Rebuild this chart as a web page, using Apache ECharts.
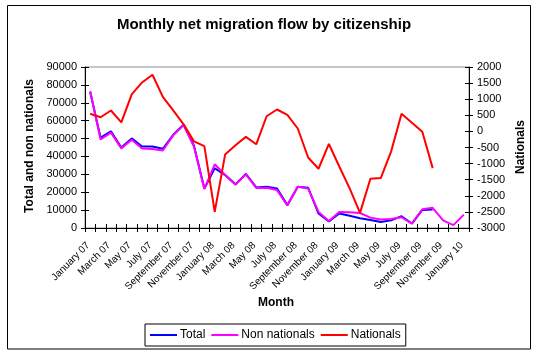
<!DOCTYPE html>
<html>
<head>
<meta charset="utf-8">
<script src="https://cdn.jsdelivr.net/npm/echarts@6/dist/echarts.min.js"></script>
<style>
  html, body { margin: 0; padding: 0; background: #fff; }
  #chart { width: 534px; height: 353px; }
</style>
</head>
<body>
<div id="chart"></div>
<script>
// Month categories, January 2007 to January 2010
const months = [
  'January 07', 'February 07', 'March 07', 'April 07', 'May 07', 'June 07',
  'July 07', 'August 07', 'September 07', 'October 07', 'November 07', 'December 07',
  'January 08', 'February 08', 'March 08', 'April 08', 'May 08', 'June 08',
  'July 08', 'August 08', 'September 08', 'October 08', 'November 08', 'December 08',
  'January 09', 'February 09', 'March 09', 'April 09', 'May 09', 'June 09',
  'July 09', 'August 09', 'September 09', 'October 09', 'November 09', 'December 09',
  'January 10'
];

// Net migration, all citizens (left axis)
const total = [
  76000, 50500, 54000, 45000, 50100, 45600, 45600, 44300, 52100, 57800, 46000, 22100,
  33400, 29600, 24400, 30200, 22700, 23100, 22100, 12800, 23100, 22500, 8100, 3600,
  8100, 6800, 5500, 4500, 3400, 4300, 6600, 2500, 10100, 10300, null, null, null
];

// Net migration, non nationals (left axis)
const nonNationals = [
  76500, 49500, 53300, 44500, 49300, 44400, 44100, 43300, 51800, 57500, 45500, 21800,
  35600, 29600, 24200, 30000, 22400, 22500, 21200, 12600, 23000, 22100, 9000, 3900,
  9000, 8800, 8400, 5800, 4800, 5000, 6000, 2500, 10500, 11300, 4300, 1600, 7500
];

// Net migration, nationals (right axis)
const nationals = [
  550, 440, 650, 280, 1150, 1520, 1760, 1070, 650, 220, -310, -460,
  -2500, -720, -430, -170, -400, 470, 680, 510, 90, -810, -1160, -390,
  -1090, -1770, -2530, -1470, -1450, -620, 550, 270, -10, -1140, null, null, null
];

// Axis ranges
const leftMin = 0, leftMax = 90000, leftStep = 10000;
const rightMin = -3000, rightMax = 2000, rightStep = 500;

const FONT = '"Liberation Sans", Arial, sans-serif';
const black = '#000000';

const chart = echarts.init(document.getElementById('chart'), null, { renderer: 'canvas' });

// Tick marks cross each axis line: one axis draws the outer half, a twin draws the inner half
function valueAxis(pos, min, max, step, inner) {
  return {
    type: 'value', position: pos, min: min, max: max, interval: step,
    splitLine: { show: false },
    axisLine: { show: !inner, lineStyle: { color: black, width: 1 } },
    axisTick: { show: true, inside: !!inner, length: 4, lineStyle: { color: black } },
    axisLabel: inner ? { show: false } : {
      show: true, color: black, fontSize: 11, fontFamily: FONT, margin: 8,
      formatter: function (v) { return String(v); }
    }
  };
}

function categoryAxis(inner) {
  return {
    type: 'category', data: months, position: 'bottom', boundaryGap: true,
    axisLine: { show: !inner, onZero: false, lineStyle: { color: black, width: 1 } },
    axisTick: { show: true, inside: !!inner, length: 4, interval: 0, lineStyle: { color: black } },
    axisLabel: inner ? { show: false } : {
      show: true, interval: 1, rotate: 45, color: black, fontSize: 10, fontFamily: FONT,
      margin: 14,
      // a trailing space nudges each slanted label slightly down-left of its month
      formatter: function (v) { return v + ' '; }
    }
  };
}

function lineSeries(name, data, color, axisIndex) {
  return {
    name: name, type: 'line', data: data, yAxisIndex: axisIndex,
    showSymbol: false, symbol: 'none', connectNulls: false, animation: false,
    lineStyle: { color: color, width: 2 }, itemStyle: { color: color }
  };
}

chart.setOption({
  animation: false,
  backgroundColor: '#ffffff',
  textStyle: { fontFamily: FONT },
  grid: {
    left: 85, right: 65, top: 67, bottom: 125,
    show: true, borderColor: '#8c8c8c', borderWidth: 1, backgroundColor: 'transparent'
  },
  xAxis: [categoryAxis(false), categoryAxis(true)],
  yAxis: [
    valueAxis('left', leftMin, leftMax, leftStep, false),
    valueAxis('right', rightMin, rightMax, rightStep, false),
    valueAxis('left', leftMin, leftMax, leftStep, true),
    valueAxis('right', rightMin, rightMax, rightStep, true)
  ],
  legend: {
    left: 145, top: 324,
    data: ['Total', 'Non nationals', 'Nationals'],
    selectedMode: false,
    icon: 'rect', itemWidth: 27, itemHeight: 2, itemGap: 6,
    padding: [5, 5],
    borderColor: black, borderWidth: 1,
    textStyle: { color: black, fontSize: 12, fontFamily: FONT, padding: [0, 0, 0, -2] }
  },
  series: [
    lineSeries('Total', total, '#0000ff', 0),
    lineSeries('Non nationals', nonNationals, '#ff00ff', 0),
    lineSeries('Nationals', nationals, '#ff0000', 1)
  ],
  graphic: [
    {
      type: 'rect', silent: true,
      shape: { x: 7.5, y: 5.5, width: 523, height: 343.5 },
      style: { fill: 'none', stroke: black, lineWidth: 1 }
    },
    {
      type: 'text', silent: true, x: 264, y: 25,
      style: {
        text: 'Monthly net migration flow by citizenship',
        fill: black, font: 'bold 15px ' + FONT,
        textAlign: 'center', textVerticalAlign: 'middle'
      }
    },
    {
      type: 'text', silent: true, x: 30, y: 146, rotation: Math.PI / 2,
      style: {
        text: 'Total and non nationals', fill: black, font: 'bold 12px ' + FONT,
        textAlign: 'center', textVerticalAlign: 'middle'
      }
    },
    {
      type: 'text', silent: true, x: 521, y: 147, rotation: Math.PI / 2,
      style: {
        text: 'Nationals', fill: black, font: 'bold 12px ' + FONT,
        textAlign: 'center', textVerticalAlign: 'middle'
      }
    },
    {
      type: 'text', silent: true, x: 276, y: 303,
      style: {
        text: 'Month', fill: black, font: 'bold 12px ' + FONT,
        textAlign: 'center', textVerticalAlign: 'middle'
      }
    }
  ]
});
</script>
</body>
</html>
